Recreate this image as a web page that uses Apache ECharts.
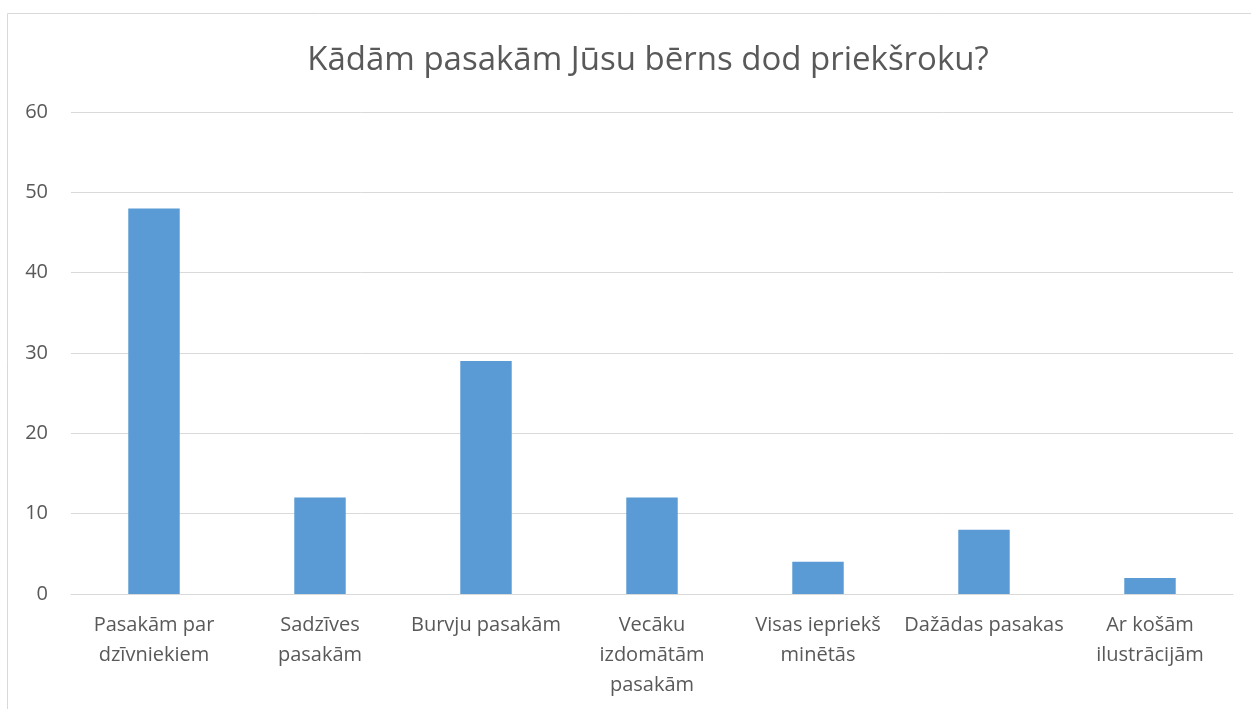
<!DOCTYPE html>
<html>
<head>
<meta charset="utf-8">
<script src="https://cdn.jsdelivr.net/npm/echarts@6/dist/echarts.min.js"></script>
<style>
  html, body { margin: 0; padding: 0; background: #fff; }
  #chart { width: 1251px; height: 709px; }
</style>
</head>
<body>
<div id="chart"></div>
<script>
// kategorijas un vērtības
const categories = [
  'Pasakām par\ndzīvniekiem',
  'Sadzīves\npasakām',
  'Burvju pasakām',
  'Vecāku\nizdomātām\npasakām',
  'Visas iepriekš\nminētās',
  'Dažādas pasakas',
  'Ar košām\nilustrācijām'
];
const values = [48, 12, 29, 12, 4, 8, 2];
const titleText = 'Kādām pasakām Jūsu bērns dod priekšroku?';

const chart = echarts.init(document.getElementById('chart'));
const font = '"Open Sans", "Noto Sans", sans-serif';
let option = {
  animation: false,
  textStyle: { fontFamily: font },
  graphic: [{
    type: 'rect',
    shape: { x: 7.5, y: 13.5, width: 1300, height: 800 },
    style: { fill: 'none', stroke: '#d9d9d9', lineWidth: 1 },
    silent: true
  }],
  title: {
    text: titleText,
    left: 643,
    textAlign: 'center',
    top: 39,
    textStyle: {
      fontFamily: font,
      fontSize: 33,
      fontWeight: 'normal',
      color: '#595959'
    }
  },
  grid: {
    left: 71,
    right: 18,
    top: 112,
    bottom: 115
  },
  xAxis: {
    type: 'category',
    data: categories,
    axisLine: { lineStyle: { color: '#d9d9d9', width: 1 } },
    axisTick: { show: false },
    axisLabel: {
      color: '#595959',
      fontSize: 20,
      lineHeight: 30,
      margin: 16,
      interval: 0
    }
  },
  yAxis: {
    type: 'value',
    min: 0,
    max: 60,
    interval: 10,
    axisLine: { show: false },
    axisTick: { show: false },
    splitLine: { lineStyle: { color: '#d9d9d9', width: 1 } },
    axisLabel: {
      color: '#595959',
      fontSize: 20,
      margin: 23
    }
  },
  series: [{
    type: 'bar',
    data: values,
    barWidth: '31%',
    itemStyle: { color: '#5b9bd5' }
  }]
};
chart.setOption(option);
</script>
</body>
</html>
